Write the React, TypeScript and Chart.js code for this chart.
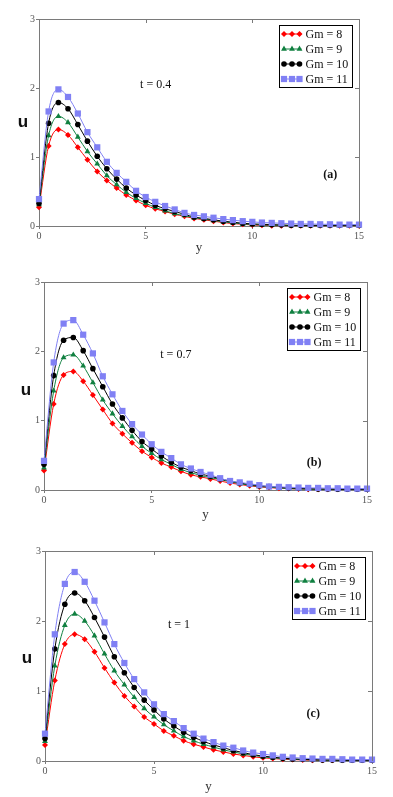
import React, { useEffect, useRef } from "react";
import { Chart, registerables } from "chart.js";

Chart.register(...registerables);

// ---------- data ----------
const X_GRID = [0, 0.45, 0.91, 1.36, 1.82, 2.27, 2.73, 3.18, 3.64, 4.09, 4.55, 5.0, 5.45, 5.91, 6.36, 6.82, 7.27, 7.73, 8.18, 8.64, 9.09, 9.55, 10.0, 10.45, 10.91, 11.36, 11.82, 12.27, 12.73, 13.18, 13.64, 14.09, 14.55, 15.0];
const X_TICKS = [0, 5, 10, 15];
const Y_TICKS = [0, 1, 2, 3];
const GM_LABELS = ["Gm = 8", "Gm = 9", "Gm = 10", "Gm = 11"];
const TIME_LABELS = ["t = 0.4", "t = 0.7", "t = 1"];
const PANEL_TAGS = ["(a)", "(b)", "(c)"];

// panel (a) t = 0.4
const A_GM8 = [0.27, 1.16, 1.40, 1.32, 1.14, 0.96, 0.79, 0.66, 0.55, 0.45, 0.37, 0.30, 0.25, 0.21, 0.17, 0.14, 0.11, 0.09, 0.07, 0.05, 0.035, 0.025, 0.015, 0.01, 0.005, 0.005, 0.005, 0.005, 0.005, 0.005, 0.005, 0.005, 0.005, 0.005];
const A_GM9 = [0.31, 1.31, 1.59, 1.50, 1.29, 1.08, 0.90, 0.73, 0.60, 0.49, 0.40, 0.33, 0.27, 0.22, 0.18, 0.15, 0.12, 0.10, 0.08, 0.06, 0.045, 0.03, 0.02, 0.015, 0.01, 0.01, 0.005, 0.005, 0.005, 0.005, 0.005, 0.005, 0.005, 0.005];
const A_GM10 = [0.33, 1.49, 1.79, 1.70, 1.47, 1.23, 1.01, 0.83, 0.68, 0.55, 0.45, 0.37, 0.30, 0.25, 0.21, 0.17, 0.13, 0.11, 0.09, 0.07, 0.055, 0.04, 0.03, 0.025, 0.02, 0.015, 0.01, 0.01, 0.01, 0.01, 0.01, 0.01, 0.01, 0.01];
const A_GM11 = [0.39, 1.66, 1.98, 1.87, 1.63, 1.36, 1.14, 0.93, 0.77, 0.64, 0.51, 0.42, 0.35, 0.29, 0.24, 0.19, 0.16, 0.14, 0.12, 0.10, 0.085, 0.07, 0.06, 0.05, 0.045, 0.04, 0.035, 0.03, 0.03, 0.025, 0.025, 0.02, 0.02, 0.02];

// panel (b) t = 0.7
const B_GM8 = [0.28, 1.24, 1.66, 1.71, 1.57, 1.37, 1.16, 0.96, 0.81, 0.68, 0.56, 0.47, 0.39, 0.33, 0.27, 0.22, 0.19, 0.16, 0.13, 0.10, 0.08, 0.06, 0.045, 0.035, 0.025, 0.02, 0.015, 0.01, 0.01, 0.01, 0.01, 0.01, 0.01, 0.01];
const B_GM9 = [0.32, 1.43, 1.91, 1.95, 1.79, 1.55, 1.30, 1.10, 0.92, 0.77, 0.63, 0.53, 0.44, 0.37, 0.30, 0.25, 0.21, 0.18, 0.15, 0.12, 0.09, 0.07, 0.05, 0.04, 0.03, 0.02, 0.015, 0.01, 0.01, 0.01, 0.01, 0.01, 0.01, 0.01];
const B_GM10 = [0.37, 1.65, 2.16, 2.20, 2.01, 1.75, 1.49, 1.24, 1.04, 0.86, 0.70, 0.59, 0.49, 0.40, 0.33, 0.28, 0.23, 0.20, 0.16, 0.13, 0.10, 0.08, 0.06, 0.05, 0.04, 0.03, 0.025, 0.02, 0.015, 0.015, 0.01, 0.01, 0.01, 0.01];
const B_GM11 = [0.42, 1.84, 2.40, 2.45, 2.24, 1.97, 1.64, 1.38, 1.14, 0.95, 0.80, 0.66, 0.55, 0.46, 0.37, 0.31, 0.26, 0.22, 0.17, 0.13, 0.11, 0.09, 0.07, 0.05, 0.045, 0.04, 0.035, 0.03, 0.03, 0.025, 0.025, 0.02, 0.02, 0.02];

// panel (c) t = 1
const C_GM8 = [0.23, 1.15, 1.67, 1.81, 1.74, 1.56, 1.33, 1.12, 0.93, 0.78, 0.63, 0.53, 0.43, 0.36, 0.29, 0.24, 0.20, 0.16, 0.13, 0.10, 0.08, 0.06, 0.045, 0.035, 0.025, 0.02, 0.015, 0.01, 0.01, 0.01, 0.01, 0.01, 0.01, 0.01];
const C_GM9 = [0.28, 1.36, 1.94, 2.10, 2.00, 1.79, 1.53, 1.29, 1.09, 0.91, 0.75, 0.63, 0.52, 0.43, 0.35, 0.29, 0.24, 0.20, 0.16, 0.13, 0.10, 0.08, 0.06, 0.045, 0.035, 0.025, 0.02, 0.015, 0.01, 0.01, 0.01, 0.01, 0.01, 0.01];
const C_GM10 = [0.32, 1.60, 2.24, 2.40, 2.29, 2.05, 1.77, 1.49, 1.26, 1.05, 0.87, 0.73, 0.60, 0.50, 0.41, 0.34, 0.28, 0.23, 0.19, 0.15, 0.12, 0.09, 0.07, 0.055, 0.04, 0.03, 0.025, 0.02, 0.015, 0.015, 0.01, 0.01, 0.01, 0.01];
const C_GM11 = [0.39, 1.81, 2.53, 2.70, 2.56, 2.29, 1.98, 1.67, 1.40, 1.17, 0.98, 0.81, 0.67, 0.57, 0.47, 0.39, 0.32, 0.27, 0.22, 0.19, 0.15, 0.12, 0.10, 0.08, 0.06, 0.05, 0.04, 0.035, 0.03, 0.03, 0.025, 0.02, 0.02, 0.02];

// ---------- styles ----------
const COLORS = ["#ff0000", "#108040", "#000000", "#8080f4"];
const STYLES = ["rectRot", "triangle", "circle", "rect"];
const RADII = [3, 3.4, 2.8, 4.4];
const SERIF = "'Liberation Serif', 'Times New Roman', serif";
const SANS = "'Liberation Sans', Arial, sans-serif";
const W = 393;

type Area = { left: number; right: number; top: number; bottom: number };
type PanelCfg = {
  top: number;
  height: number;
  area: Area;
  series: number[][];
  timeLabel: string;
  timePos: [number, number];
  tag: string;
  tagPos: [number, number];
  uPos: [number, number];
  titleCenter: number;
};

const PANELS: PanelCfg[] = [
  {
    top: 0, height: 262, area: { left: 39, right: 359, top: 19, bottom: 226 },
    series: [A_GM8, A_GM9, A_GM10, A_GM11],
    timeLabel: TIME_LABELS[0], timePos: [4.74, 2.04],
    tag: PANEL_TAGS[0], tagPos: [13.33, 0.74],
    uPos: [23, 122], titleCenter: 248,
  },
  {
    top: 262, height: 268, area: { left: 44, right: 367, top: 20, bottom: 228 },
    series: [B_GM8, B_GM9, B_GM10, B_GM11],
    timeLabel: TIME_LABELS[1], timePos: [5.4, 1.95],
    tag: PANEL_TAGS[1], tagPos: [12.2, 0.39],
    uPos: [26, 128], titleCenter: 253,
  },
  {
    top: 530, height: 267, area: { left: 45, right: 372, top: 21, bottom: 231 },
    series: [C_GM8, C_GM9, C_GM10, C_GM11],
    timeLabel: TIME_LABELS[2], timePos: [5.64, 1.94],
    tag: PANEL_TAGS[2], tagPos: [12.0, 0.67],
    uPos: [27, 128], titleCenter: 257,
  },
];

function drawMarker(ctx: CanvasRenderingContext2D, style: string, x: number, y: number, r: number, color: string) {
  ctx.fillStyle = color;
  ctx.beginPath();
  if (style === "circle") {
    ctx.arc(x, y, r, 0, Math.PI * 2);
  } else if (style === "rect") {
    const s = r * Math.SQRT1_2;
    ctx.rect(x - s, y - s, 2 * s, 2 * s);
  } else if (style === "rectRot") {
    ctx.moveTo(x, y - r);
    ctx.lineTo(x + r, y);
    ctx.lineTo(x, y + r);
    ctx.lineTo(x - r, y);
    ctx.closePath();
  } else {
    let a = 0;
    ctx.moveTo(x + Math.sin(a) * r, y - Math.cos(a) * r);
    a += (2 * Math.PI) / 3;
    ctx.lineTo(x + Math.sin(a) * r, y - Math.cos(a) * r);
    a += (2 * Math.PI) / 3;
    ctx.lineTo(x + Math.sin(a) * r, y - Math.cos(a) * r);
    ctx.closePath();
  }
  ctx.fill();
}

function Panel({ cfg }: { cfg: PanelCfg }) {
  const ref = useRef<HTMLCanvasElement | null>(null);
  useEffect(() => {
    const canvas = ref.current;
    if (!canvas) return;
    const { area, height } = cfg;
    const frameColor = "#7a7a7a";
    const tickFont = { family: SERIF, size: 10 };

    const overlay = {
      id: "overlay",
      afterDatasetsDraw(chart: any) {
        const ctx: CanvasRenderingContext2D = chart.ctx;
        const ca = chart.chartArea;
        const xs = chart.scales.x;
        const ys = chart.scales.y;
        ctx.save();
        // top & right frame with inward ticks
        ctx.strokeStyle = frameColor;
        ctx.lineWidth = 1;
        ctx.beginPath();
        ctx.moveTo(ca.left, Math.round(ca.top) + 0.5);
        ctx.lineTo(ca.right, Math.round(ca.top) + 0.5);
        ctx.moveTo(Math.round(ca.right) + 0.5, ca.top);
        ctx.lineTo(Math.round(ca.right) + 0.5, ca.bottom);
        X_TICKS.slice(1, -1).forEach((v) => {
          const px = Math.round(xs.getPixelForValue(v)) + 0.5;
          ctx.moveTo(px, ca.top);
          ctx.lineTo(px, ca.top + 4);
        });
        Y_TICKS.slice(1, -1).forEach((v) => {
          const py = Math.round(ys.getPixelForValue(v)) + 0.5;
          ctx.moveTo(ca.right, py);
          ctx.lineTo(ca.right - 4, py);
        });
        ctx.stroke();

        // legend
        const bw = 73, bh = 62;
        const bx = Math.round(ca.right - 7 - bw) + 0.5;
        const by = Math.round(ca.top + 6) + 0.5;
        ctx.fillStyle = "#ffffff";
        ctx.fillRect(bx, by, bw, bh);
        ctx.strokeStyle = "#000000";
        ctx.lineWidth = 1;
        ctx.strokeRect(bx, by, bw, bh);
        GM_LABELS.forEach((lab, k) => {
          const ry = by + 8.5 + k * 15;
          ctx.strokeStyle = COLORS[k];
          ctx.lineWidth = 1;
          ctx.beginPath();
          ctx.moveTo(bx + 3, ry);
          ctx.lineTo(bx + 22, ry);
          ctx.stroke();
          [4.5, 12.5, 20].forEach((dx) => drawMarker(ctx, STYLES[k], bx + dx, ry, RADII[k], COLORS[k]));
          ctx.fillStyle = "#111111";
          ctx.font = `12px ${SERIF}`;
          ctx.textAlign = "left";
          ctx.textBaseline = "middle";
          ctx.fillText(lab, bx + 26, ry + 0.5);
        });

        // annotations
        ctx.fillStyle = "#111111";
        ctx.font = `12px ${SERIF}`;
        ctx.textAlign = "left";
        ctx.textBaseline = "middle";
        ctx.fillText(cfg.timeLabel, xs.getPixelForValue(cfg.timePos[0]), ys.getPixelForValue(cfg.timePos[1]));
        ctx.font = `bold 12px ${SERIF}`;
        ctx.fillText(cfg.tag, xs.getPixelForValue(cfg.tagPos[0]), ys.getPixelForValue(cfg.tagPos[1]));
        ctx.font = `bold 17px ${SANS}`;
        ctx.textAlign = "center";
        ctx.fillText("u", cfg.uPos[0], cfg.uPos[1]);
        ctx.restore();
      },
    };

    const chart = new Chart(canvas, {
      type: "line",
      data: {
        datasets: cfg.series.map((vals, k) => ({
          label: GM_LABELS[k],
          data: X_GRID.map((x, i) => ({ x, y: vals[i] })),
          borderColor: COLORS[k],
          backgroundColor: COLORS[k],
          borderWidth: 1,
          pointStyle: STYLES[k] as any,
          pointRadius: RADII[k],
          pointBorderWidth: 0,
          pointBackgroundColor: COLORS[k],
          pointBorderColor: COLORS[k],
          cubicInterpolationMode: "monotone" as const,
          fill: false,
          clip: false as any,
          order: 4 - k,
        })),
      },
      options: {
        responsive: false,
        animation: false,
        devicePixelRatio: 1,
        events: [],
        layout: { padding: { left: 0, top: area.top, right: W - area.right, bottom: 0 } },
        plugins: { legend: { display: false }, tooltip: { enabled: false } },
        scales: {
          x: {
            type: "linear",
            min: 0,
            max: 15,
            afterBuildTicks: (s: any) => {
              s.ticks = X_TICKS.map((v) => ({ value: v }));
            },
            ticks: { font: tickFont, color: "#555555", padding: 1, maxRotation: 0, autoSkip: false },
            grid: { display: true, drawOnChartArea: false, drawTicks: true, tickLength: 3, color: frameColor },
            border: { display: true, color: frameColor },
            title: {
              display: true,
              text: "y",
              font: { family: SERIF, size: 13 },
              color: "#333333",
              padding: { top: 0, bottom: height - cfg.titleCenter - 7.8 },
            },
            afterFit: (s: any) => {
              s.height = height - area.bottom;
            },
          },
          y: {
            type: "linear",
            min: 0,
            max: 3,
            afterBuildTicks: (s: any) => {
              s.ticks = Y_TICKS.map((v) => ({ value: v }));
            },
            ticks: { font: tickFont, color: "#555555", padding: 1, autoSkip: false },
            grid: { display: true, drawOnChartArea: false, drawTicks: true, tickLength: 3, color: frameColor },
            border: { display: true, color: frameColor },
            afterFit: (s: any) => {
              s.width = area.left;
            },
          },
        },
      },
      plugins: [overlay],
    } as any);
    return () => chart.destroy();
  }, [cfg]);

  return (
    <canvas
      ref={ref}
      width={W}
      height={cfg.height}
      style={{ position: "absolute", left: 0, top: cfg.top, width: W, height: cfg.height }}
    />
  );
}

export default function App() {
  return (
    <div style={{ position: "absolute", left: 0, top: 0, width: W, height: 797, background: "#ffffff" }}>
      {PANELS.map((p, i) => (
        <Panel key={i} cfg={p} />
      ))}
    </div>
  );
}
